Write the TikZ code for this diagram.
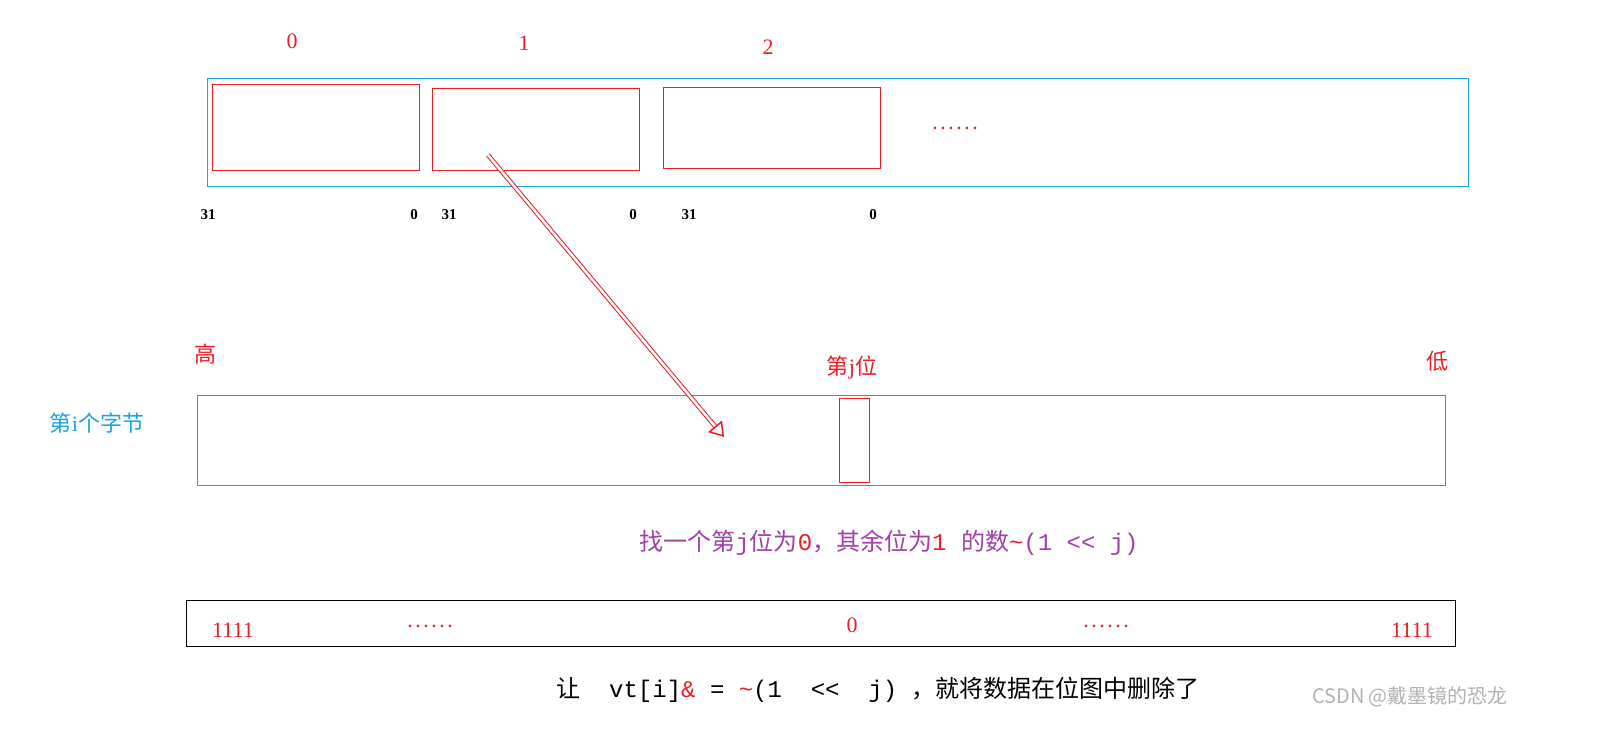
\documentclass[tikz,border=0pt]{standalone}
\usepackage{fontspec}
\setmainfont{Liberation Serif}
\setmonofont{Liberation Mono}
\newfontfamily\cjk{Noto Sans CJK SC}
\usetikzlibrary{arrows.meta}
\definecolor{cblue}{HTML}{1AA3E0}
\definecolor{cred}{HTML}{EE1C25}
\definecolor{cpurp}{HTML}{A040A8}
\newcommand{\rdots}{.\hspace{4pt}.\hspace{4pt}.\hspace{4pt}.\hspace{4pt}.\hspace{4pt}.}
\begin{document}
\begin{tikzpicture}[x=1pt,y=-1pt,
  lbl/.style={inner sep=0pt,font=\fontsize{22}{24}\selectfont},
  sm/.style={inner sep=0pt,font=\fontsize{15}{16}\selectfont\bfseries},
  rbox/.style={draw=cred,line width=1pt},
  bbox/.style={draw=cblue,line width=1pt}]
\fill[white] (0,0) rectangle (1603,742);
% top container
\draw[bbox] (207,78) rectangle (1468,186);
\draw[rbox] (212,84) rectangle (419,170);
\draw[rbox] (432,88) rectangle (639,170);
\draw[rbox] (663,87) rectangle (880,168);
\node[lbl,text=cred] (n0) at (292,41) {0};
\node[lbl,text=cred] (n1) at (524,43) {1};
\node[lbl,text=cred] (n2) at (768,47) {2};
\node[lbl,text=cred,font=\fontsize{16}{18}\selectfont\bfseries] (dots1) at (955,128) {\rdots};
\foreach \x/\t in {208/31,414/0,449/31,633/0,689/31,873/0}
  \node[sm] at (\x,215) {\t};
% middle
\node[lbl,text=cred,font=\fontsize{22}{24}\selectfont\cjk] (gao) at (205,354) {高};
\node[lbl,text=cred,font=\fontsize{22}{24}\selectfont\cjk] (di) at (1437,361) {低};
\node[lbl,text=cred,font=\fontsize{22}{24}\selectfont\cjk] (dj) at (852,368) {第{\rmfamily j}位};
\node[lbl,text=cblue,font=\fontsize{22}{24}\selectfont\cjk] (byte) at (97,423) {第{\rmfamily i}个字节};
\draw[bbox] (197,395) rectangle (1445,485);
\draw[rbox] (839,398) rectangle (869,482);
\coordinate (as) at (488,155);
\coordinate (ae) at (724,437);
\draw[cred,line width=1pt,double=white,double distance=2.5pt,-{Triangle[open,length=14pt,width=18pt,line width=1.5pt]}] (as) -- (ae);
% purple text
\node[lbl,text=cpurp,font=\fontsize{24}{26}\selectfont\ttfamily] (pt) at (889,543) {{\cjk 找一个第}j{\cjk 位为}\textcolor{cred}{0}{\cjk ，其余位为}\textcolor{cred}{1} {\cjk 的数}\textcolor{cred}{\char`\~}(1 <{}< j)};
% bottom box
\draw[black,line width=1pt] (186,600) rectangle (1455,646);
\node[lbl,text=cred] at (233,630) {1111};
\node[lbl,text=cred,font=\fontsize{16}{18}\selectfont\bfseries] at (430,626) {\rdots};
\node[lbl,text=cred] at (852,625) {0};
\node[lbl,text=cred,font=\fontsize{16}{18}\selectfont\bfseries] at (1106,626) {\rdots};
\node[lbl,text=cred] at (1412,630) {1111};
\node[lbl,font=\fontsize{24}{26}\selectfont\ttfamily] (bt) at (878,690) {{\cjk 让}\ \ vt[i]\textcolor{cred}{\&}\ =\ \textcolor{cred}{\char`\~}(1\ \ <{}<\ \ j)\ {\cjk ，就将数据在位图中删除了}};
\node[inner sep=0pt,text=gray!60,font=\fontsize{20}{22}\selectfont\cjk] (wm) at (1410,697) {CSDN @戴墨镜的恐龙};
\useasboundingbox (0,0) rectangle (1603,742);
\end{tikzpicture}
\end{document}
